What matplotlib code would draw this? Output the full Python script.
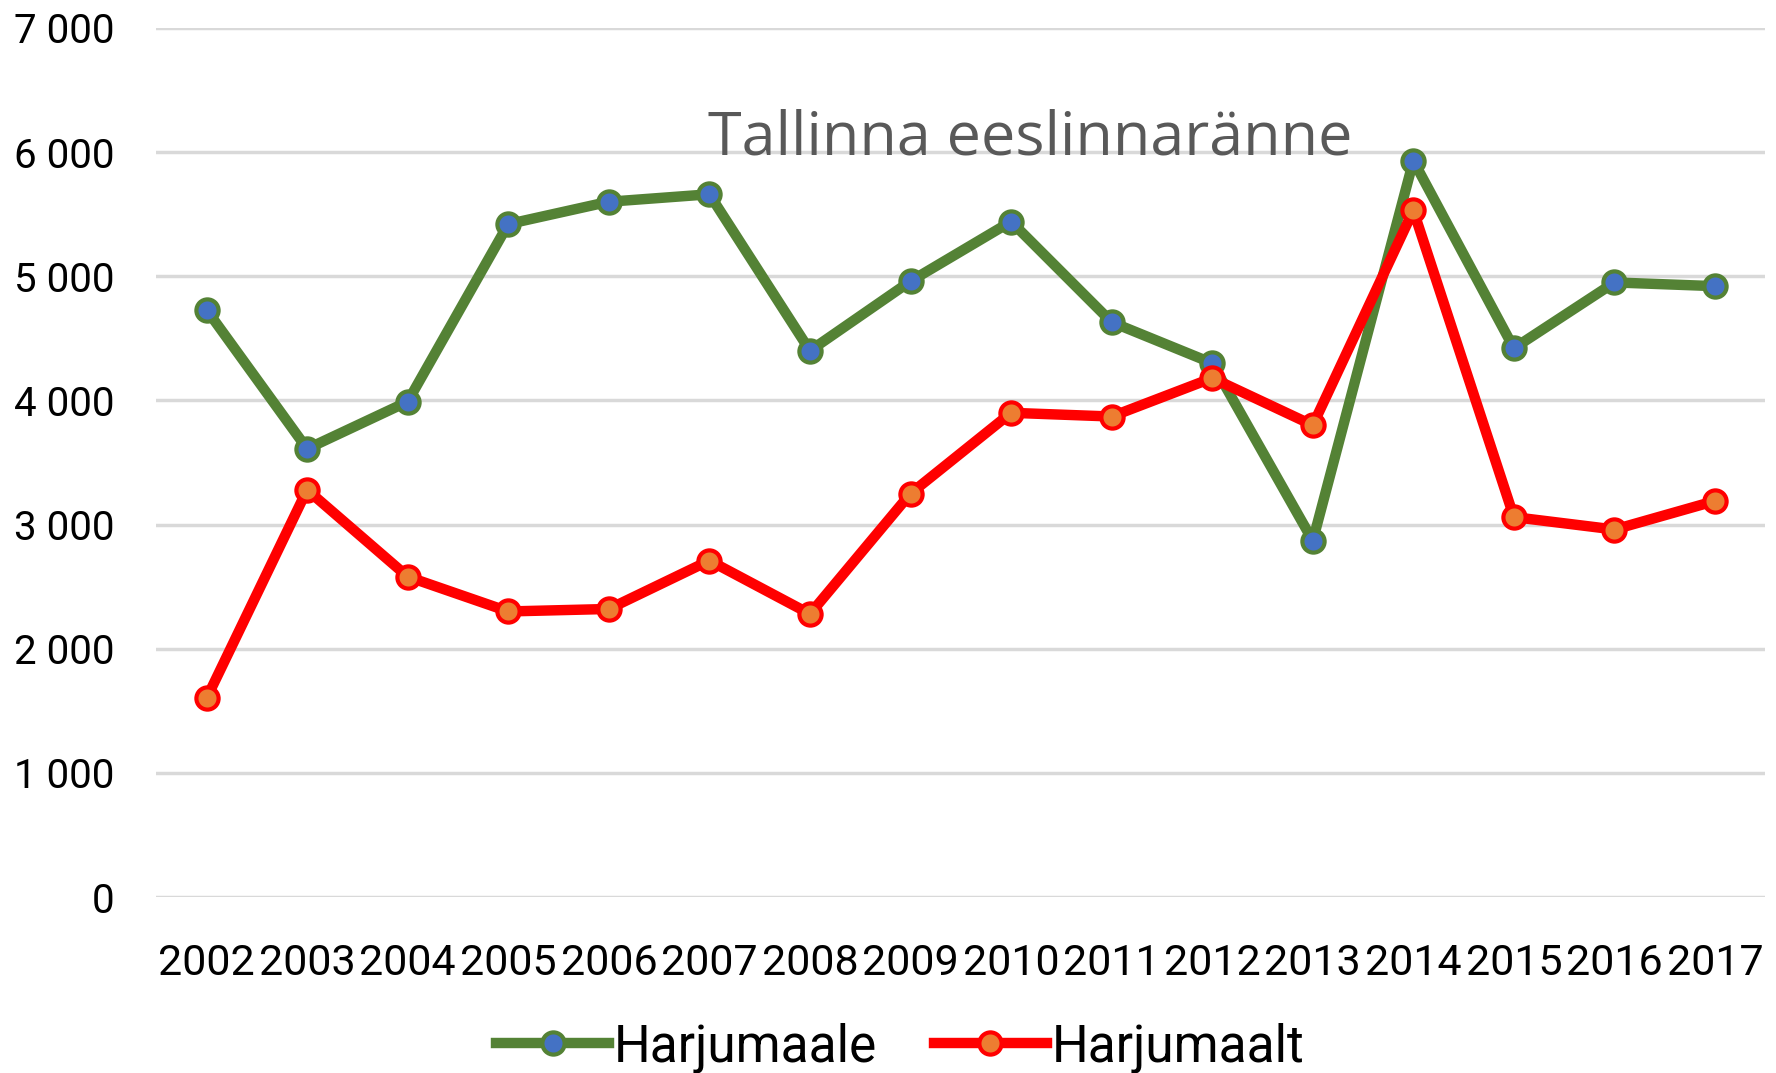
import numpy as np
import matplotlib.pyplot as plt
from matplotlib.ticker import FuncFormatter

# Dati
years = list(range(2002, 2018))
harjumaale = [4730, 3610, 3990, 5420, 5600, 5660, 4400, 4960, 5440, 4630, 4300, 2870, 5930, 4420, 4950, 4920]
harjumaalt = [1600, 3280, 2580, 2300, 2320, 2710, 2280, 3250, 3900, 3870, 4180, 3800, 5530, 3060, 2960, 3190]

plt.rcParams['font.family'] = ['Roboto', 'DejaVu Sans']

fig = plt.figure(figsize=(17.76, 10.73), dpi=100)
ax = fig.add_axes([0.088, 0.164, 0.906, 0.810])

ax.plot(years, harjumaale, color='#548235', lw=7.5, marker='o', markersize=16,
        markerfacecolor='#4472C4', markeredgecolor='#548235', markeredgewidth=3,
        label='Harjumaale', solid_joinstyle='round', zorder=3)
ax.plot(years, harjumaalt, color='#FF0000', lw=7.5, marker='o', markersize=16,
        markerfacecolor='#ED7D31', markeredgecolor='#FF0000', markeredgewidth=3,
        label='Harjumaalt', solid_joinstyle='round', zorder=3)

ax.set_xlim(2001.5, 2017.5)
ax.set_ylim(0, 7000)
ax.set_xticks(years)
ax.set_yticks(range(0, 7001, 1000))
ax.yaxis.set_major_formatter(FuncFormatter(lambda v, p: f'{int(v):,}'.replace(',', ' ')))
ax.grid(axis='y', color='#D9D9D9', lw=2.5)
ax.set_axisbelow(True)
for s in ax.spines.values():
    s.set_visible(False)
ax.tick_params(length=0, colors='#000000')
ax.tick_params(axis='y', pad=30, labelsize=29)
ax.tick_params(axis='x', pad=33, labelsize=31)

fig.text(0.580, 0.871, 'Tallinna eeslinnaränne', fontsize=44, color='#595959',
         ha='center', va='center', family=['Open Sans', 'DejaVu Sans'])

fig.legend(loc='lower center', ncol=2, bbox_to_anchor=(0.507, -0.043), frameon=False,
           fontsize=37, handlelength=2.2, handletextpad=0.1, columnspacing=1.1)

fig.savefig('out.png', dpi=100)
